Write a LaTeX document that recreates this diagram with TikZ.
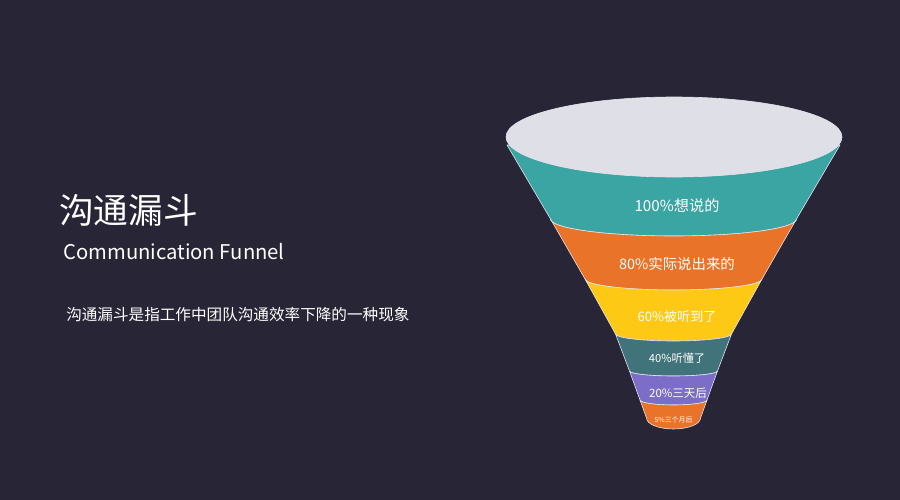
\documentclass[tikz,border=0pt]{standalone}
\usepackage{fontspec}
\setmainfont{Noto Sans CJK SC}
\definecolor{bgdark}{HTML}{272536}
\definecolor{rimgray}{HTML}{DFDFE7}
\definecolor{edgegray}{HTML}{E4E4EC}
\definecolor{funnelteal}{HTML}{3AA5A3}
\definecolor{funnelorange}{HTML}{E97328}
\definecolor{funnelyellow}{HTML}{FEC914}
\definecolor{funnelslate}{HTML}{41737A}
\definecolor{funnelpurple}{HTML}{7C6DC8}

\begin{document}
\begin{tikzpicture}[x=0.75pt,y=0.75pt,yscale=-1,xscale=1,
  band/.style={draw=edgegray, line width=0.45pt, line join=round},
  bandlabel/.style={text=white, inner sep=0.75pt},
  headtext/.style={text=white, inner sep=0.75pt, anchor=west}]
\fill[bgdark] (0,0) rectangle (900,500);
\useasboundingbox (0,0) rectangle (900,500);

% Band 100%
\draw[band, fill=funnelteal] (507,145) -- (550.5,219) arc[start angle=180, end angle=0, x radius=123, y radius=17] -- (840,145) -- cycle;
% Band 80%
\draw[band, fill=funnelorange] (550.5,219) -- (585,279) arc[start angle=180, end angle=0, x radius=88.5, y radius=11] -- (796.5,219) arc[start angle=0, end angle=180, x radius=123, y radius=17] -- cycle;
% Band 60%
\draw[band, fill=funnelyellow] (585,279) -- (615.5,334) arc[start angle=180, end angle=0, x radius=58, y radius=7] -- (762,279) arc[start angle=0, end angle=180, x radius=88.5, y radius=11] -- cycle;
% Band 40%
\draw[band, fill=funnelslate] (615.5,334) -- (629.5,371) arc[start angle=180, end angle=0, x radius=44, y radius=5] -- (731.5,334) arc[start angle=0, end angle=180, x radius=58, y radius=7] -- cycle;
% Band 20%
\draw[band, fill=funnelpurple] (629.5,371) -- (640,400) arc[start angle=180, end angle=0, x radius=33.5, y radius=5] -- (717.5,371) arc[start angle=0, end angle=180, x radius=44, y radius=5] -- cycle;
% Band 5%
\draw[band, fill=funnelorange] (640,400) -- (646.5,418) arc[start angle=180, end angle=0, x radius=27, y radius=11] -- (707,400) arc[start angle=0, end angle=180, x radius=33.5, y radius=5] -- cycle;
% Rim
\draw[band, fill=rimgray] (674,137) ellipse[x radius=168, y radius=40];

% Band labels
\node[bandlabel, font=\fontsize{11.4}{13}\selectfont] (lbl100) at (677,206) {100\%想说的};
\node[bandlabel, font=\fontsize{10.8}{13}\selectfont] (lbl80) at (677,264) {80\%实际说出来的};
\node[bandlabel, font=\fontsize{9.8}{12}\selectfont] (lbl60) at (677,317) {60\%被听到了};
\node[bandlabel, font=\fontsize{8.4}{10}\selectfont] (lbl40) at (677,358) {40\%听懂了};
\node[bandlabel, font=\fontsize{8.6}{10}\selectfont] (lbl20) at (678,393) {20\%三天后};
\node[bandlabel, font=\fontsize{5.2}{6}\selectfont] (lbl5) at (673.5,420) {5\%三个月后};

% Heading
\node[headtext, font=\fontsize{26}{31}\selectfont] (title) at (58,210) {沟通漏斗};
\node[headtext, font=\fontsize{15.2}{18}\selectfont] (subtitle) at (62,252) {Communication Funnel};
\node[headtext, font=\fontsize{11.7}{14}\selectfont] (note) at (65,315) {沟通漏斗是指工作中团队沟通效率下降的一种现象};
\end{tikzpicture}
\end{document}
